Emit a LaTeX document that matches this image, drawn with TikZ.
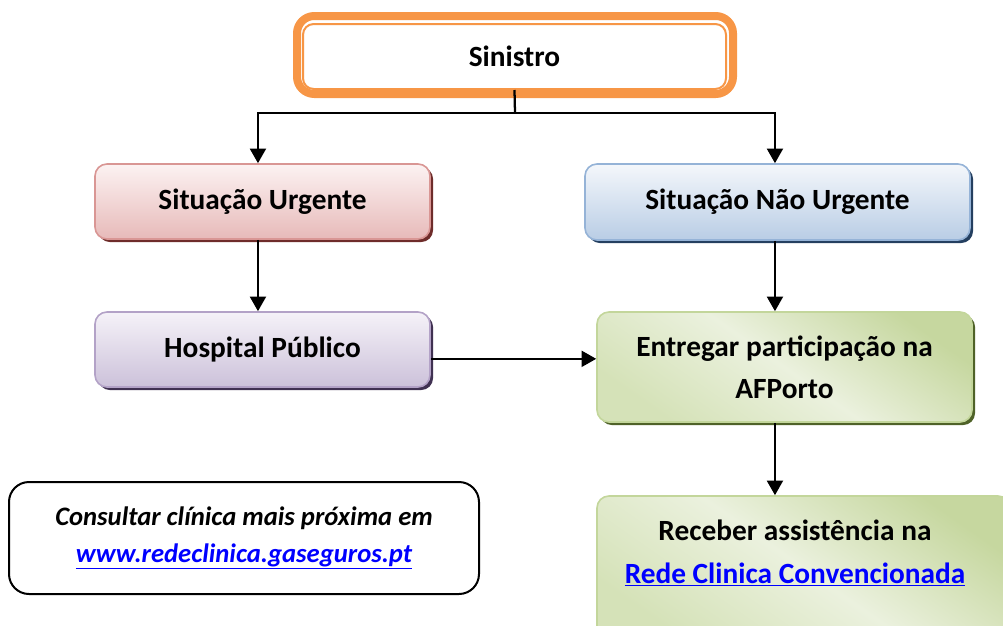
\documentclass[tikz,border=0pt]{standalone}
\usepackage{fontspec}
\setmainfont{Carlito}
\usetikzlibrary{arrows.meta,shadows}

\definecolor{sinorange}{HTML}{F79646}
\definecolor{redline}{HTML}{D99694}
\definecolor{redtop}{HTML}{FCF2F2}
\definecolor{redbot}{HTML}{E7BAB9}
\definecolor{redshade}{HTML}{6E2C2A}
\definecolor{blueline}{HTML}{95B3D7}
\definecolor{bluetop}{HTML}{F4F7FB}
\definecolor{bluebot}{HTML}{B9CDE5}
\definecolor{blueshade}{HTML}{243F60}
\definecolor{lilaline}{HTML}{B3A2C7}
\definecolor{lilatop}{HTML}{F5F2F8}
\definecolor{lilabot}{HTML}{CCC1DA}
\definecolor{lilashade}{HTML}{403152}
\definecolor{greenline}{HTML}{C3D69B}
\definecolor{greendark}{HTML}{C6D79F}
\definecolor{greenmid}{HTML}{D5E2B8}
\definecolor{greenlight}{HTML}{EBF1DE}
\definecolor{greenshade}{HTML}{4F6228}
\definecolor{linkblue}{HTML}{0000FF}

\def\px{0.75pt}
\newcommand{\boxfont}{\fontsize{22}{31.5}\selectfont\bfseries}
\newcommand{\notefont}{\fontsize{20}{27.75}\selectfont\bfseries\itshape}

\tikzset{
	box/.style={draw, line width=1.2pt, rounded corners=9pt, align=center, font=\boxfont, text=black},
	redbox/.style={box, draw=redline, top color=redtop, bottom color=redbot,
		general shadow={fill=redshade, shadow xshift=2.3pt, shadow yshift=-2.3pt}},
	bluebox/.style={box, draw=blueline, top color=bluetop, bottom color=bluebot,
		general shadow={fill=blueshade, shadow xshift=2.3pt, shadow yshift=-2.3pt}},
	lilabox/.style={box, draw=lilaline, top color=lilatop, bottom color=lilabot,
		general shadow={fill=lilashade, shadow xshift=2.3pt, shadow yshift=-2.3pt}},
	greenbox/.style={box, draw=greenline, top color=greendark, bottom color=greenmid,
		middle color=greenlight, shading angle=-35,
		general shadow={fill=greenshade, shadow xshift=2.3pt, shadow yshift=-2.3pt}},
	arrow/.style={line width=1.7pt, -{Triangle[width=12pt,length=11pt]}},
}

\begin{document}
\begin{tikzpicture}[x=0.75pt, y=-0.75pt]
			%%%%% START %%%%%
			\useasboundingbox (0,0) rectangle (1003,625);
			
			\node[draw=sinorange, fill=white, line width=6pt, rounded corners=13pt,
				minimum width=436*\px, minimum height=78*\px] (sinistroring) at (515,55) {};
			\node[draw=sinorange, line width=1.5pt, rounded corners=8pt, font=\boxfont,
				minimum width=423*\px, minimum height=65*\px] (sinistro) at (514.5,56.5) {Sinistro};
			
			\node[redbox, minimum width=335*\px, minimum height=75*\px] (urgente) at (262.5,201.5) {Situação Urgente};
			\node[bluebox, minimum width=385*\px, minimum height=76*\px] (naourgente) at (777.5,202) {Situação Não Urgente};
			\node[lilabox, minimum width=335*\px, minimum height=75*\px] (hospital) at (262.5,349.5) {Hospital Público};
			\node[greenbox, minimum width=375*\px, minimum height=110*\px] (entregar) at (784.5,367) {Entregar participação na\\AFPorto};
			
			\node[greenbox, minimum width=413*\px, minimum height=144*\px] (receber) at (803.5,568) {};
			\node[align=center, font=\fontsize{22}{32}\selectfont\bfseries] (recebertxt) at (795,553)
				{Receber assistência na\\\textcolor{linkblue}{\underline{Rede Clinica Convencionada}}};
			
			\node[draw, line width=1.5pt, rounded corners=15pt, align=center, font=\notefont,
				minimum width=470*\px, minimum height=112*\px] (consultar) at (244,538)
				{Consultar clínica mais próxima em\\\textcolor{linkblue}{\underline{www.redeclinica.gaseguros.pt}}};
			
			% ligacoes
			\coordinate (split) at (515,113);
			\draw[line width=1.7pt] (sinistro.south) -- (split);
			\draw[arrow] (split) -| ([xshift=-3.4pt]urgente.north);
			\draw[arrow] (split) -| ([xshift=-1.9pt]naourgente.north);
			\draw[arrow] ([xshift=-3.4pt]urgente.south) -- ([xshift=-3.4pt]hospital.north);
			\draw[arrow] ([xshift=-1.9pt]naourgente.south) -- ([xshift=-1.9pt]naourgente.south |- entregar.north);
			\draw[arrow] ([yshift=-7pt]hospital.east) -- ([yshift=-7pt]hospital.east -| entregar.west);
			\draw[arrow] ([xshift=-1.9pt]naourgente.south |- entregar.south) -- ([xshift=-1.9pt]naourgente.south |- receber.north);
			
			%%%%% END %%%%%
\end{tikzpicture}
\end{document}
